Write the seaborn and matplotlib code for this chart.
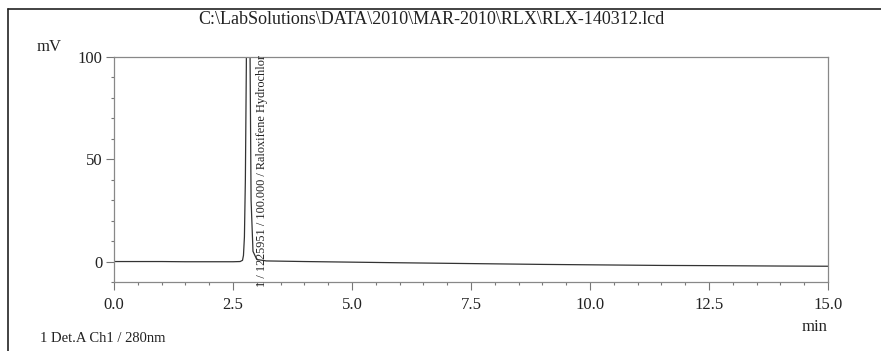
import matplotlib
matplotlib.use('Agg')
import matplotlib.pyplot as plt
import seaborn as sns
from matplotlib.lines import Line2D
from matplotlib.ticker import MultipleLocator

# Chromatogram trace (retention time in min, signal in mV)
time_min = [0.0, 0.5, 1.0, 1.5, 2.0, 2.5, 2.65, 2.70, 2.72, 2.74, 2.76, 2.78,
            2.80, 2.82, 2.84, 2.86, 2.88, 2.92, 3.0, 3.2, 4.0, 5.0, 6.0, 7.5,
            9.0, 10.0, 11.5, 12.5, 14.0, 15.0]
signal_mv = [0.0, 0.0, 0.0, -0.1, -0.1, -0.1, 0.0, 0.6, 3.0, 12.0, 40.0, 95.0,
             170.0, 210.0, 170.0, 95.0, 30.0, 5.0, 1.0, 0.3, 0.0, -0.3, -0.6, -1.0,
             -1.4, -1.6, -1.9, -2.0, -2.2, -2.3]

x_ticks = [0.0, 2.5, 5.0, 7.5, 10.0, 12.5, 15.0]
y_ticks = [0, 50, 100]

title = r'C:\LabSolutions\DATA\2010\MAR-2010\RLX\RLX-140312.lcd'
peak_label = '1 / 1225951 / 100.000 / Raloxifene Hydrochlor'
detector = '1 Det.A Ch1 / 280nm'

sns.set_style('ticks')
plt.rcParams['font.family'] = ['Liberation Serif', 'DejaVu Serif']

fig = plt.figure(figsize=(8.81, 3.51), dpi=100)
ax = fig.add_axes([0.1294, 0.1966, 0.8104, 0.641])

sns.lineplot(x=time_min, y=signal_mv, ax=ax, color='#333333', linewidth=0.9,
             estimator=None, sort=False)

ax.set_xlim(0, 15)
ax.set_ylim(-10, 100)
ax.set_xticks(x_ticks)
ax.set_xticklabels([f'{v:.1f}' for v in x_ticks])
ax.set_yticks(y_ticks)
ax.xaxis.set_minor_locator(MultipleLocator(0.5))
ax.yaxis.set_minor_locator(MultipleLocator(10))
ax.tick_params(which='major', direction='out', length=5.5, width=0.8,
               color='#777777', labelsize=12, labelcolor='#222222', pad=3)
ax.tick_params(axis='x', which='major', pad=5)
ax.tick_params(which='minor', direction='out', length=2.5, width=0.8, color='#777777')
for s in ax.spines.values():
    s.set_color('#888888')
    s.set_linewidth(0.9)

ax.text(3.11, -12.5, peak_label, rotation=90, ha='center', va='bottom',
        fontsize=8.8, color='#222222')

fig.text(0.49, 0.945, title, ha='center', va='center', fontsize=13, color='#222222')
fig.text(0.056, 0.866, 'mV', ha='center', va='center', fontsize=12, color='#222222')
fig.text(0.924, 0.068, 'min', ha='center', va='center', fontsize=12, color='#222222')
fig.text(0.045, 0.037, detector, ha='left', va='center', fontsize=10.5, color='#222222')

# scanned page border
fig.add_artist(Line2D([0.009, 1.0], [0.974, 0.974], color='#222222', linewidth=1.2))
fig.add_artist(Line2D([0.009, 0.009], [0.0, 0.974], color='#222222', linewidth=1.2))

fig.savefig('out.png', dpi=100)
